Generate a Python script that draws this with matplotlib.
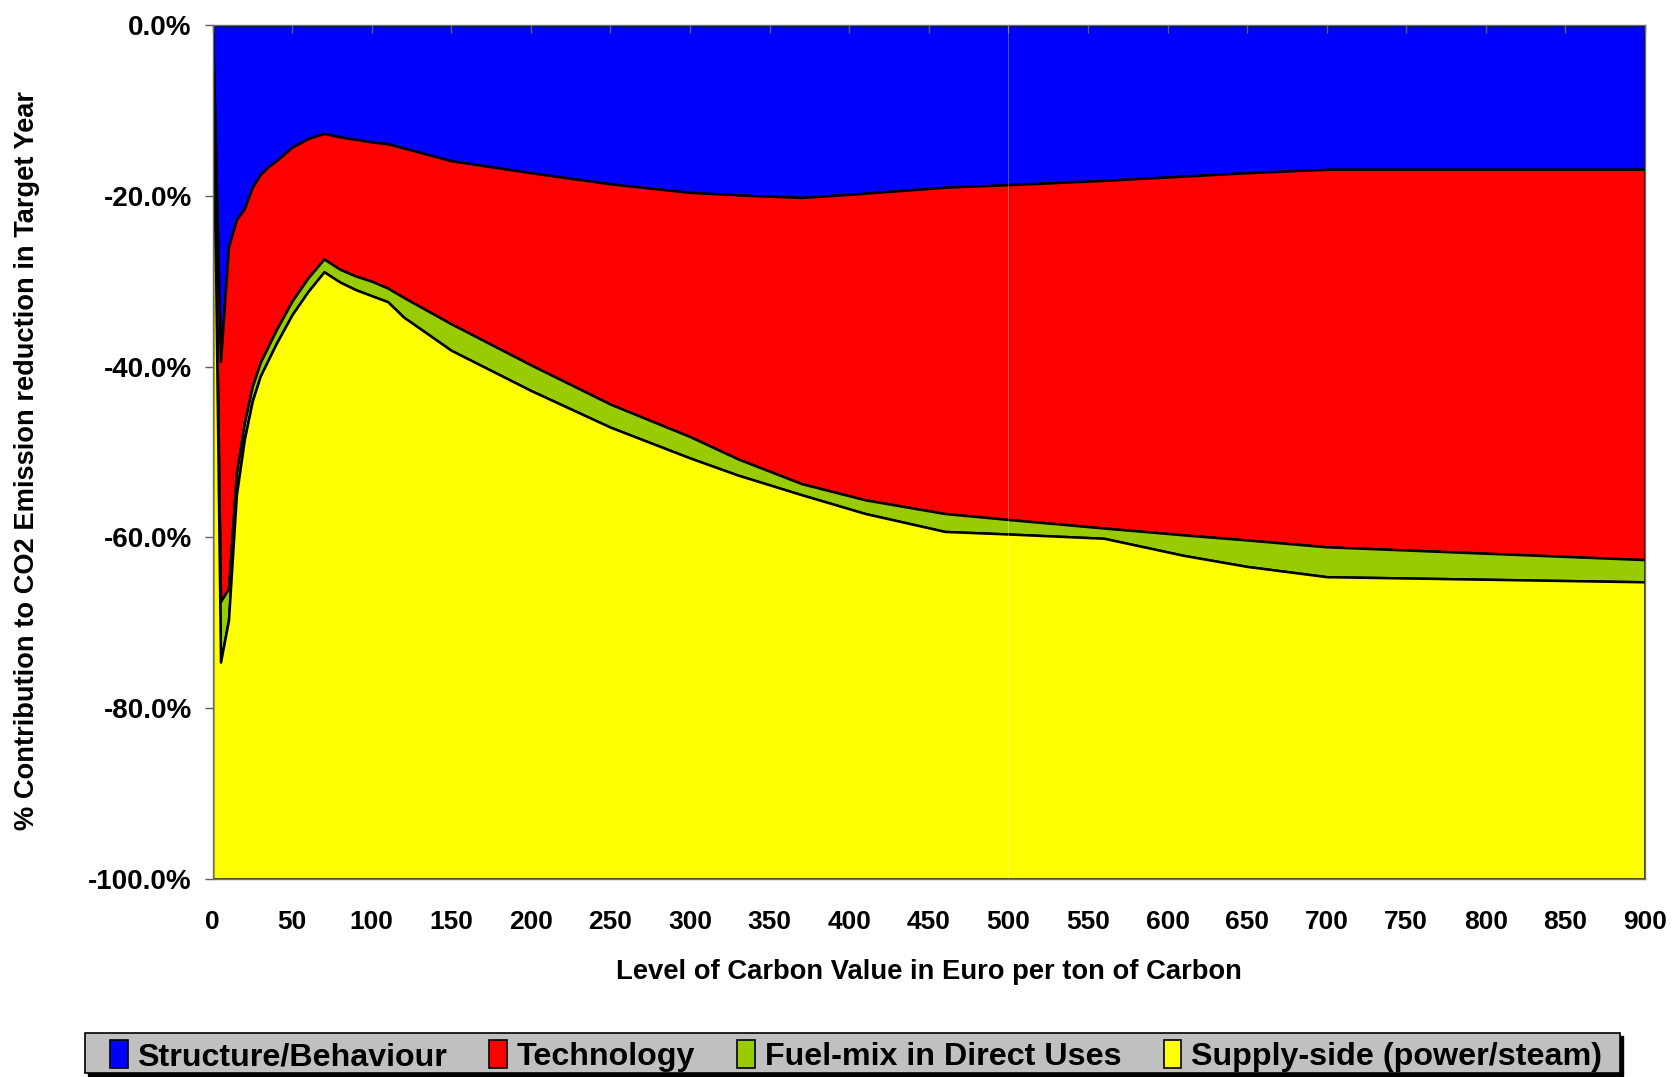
import matplotlib
matplotlib.use('Agg')
import matplotlib.pyplot as plt
from matplotlib.patches import Rectangle
from matplotlib.ticker import FuncFormatter

plt.rcParams['font.family'] = ['Liberation Sans', 'DejaVu Sans']
plt.rcParams['font.weight'] = 'bold'

# carbon value (Euro per ton of Carbon)
carbon = [0, 5, 10, 15, 20, 25, 30, 35, 40, 50, 60, 70, 80, 90, 100, 110, 120, 150,
          200, 250, 300, 330, 370, 410, 460, 500, 560, 610, 650, 700, 800, 900]

# contribution to CO2 emission reduction (%)
structure = [0, -39.4, -26.0, -22.8, -21.5, -19.0, -17.5, -16.6, -15.9, -14.3, -13.3, -12.7,
             -13.1, -13.4, -13.7, -13.9, -14.4, -15.9, -17.3, -18.6, -19.6, -19.9, -20.2,
             -19.7, -19.0, -18.7, -18.2, -17.7, -17.3, -16.9, -16.9, -16.9]
technology = [0, -28.1, -40.0, -29.7, -25.1, -23.3, -22.0, -21.0, -19.8, -18.0, -16.3, -14.7,
              -15.5, -16.0, -16.3, -16.9, -17.5, -19.1, -22.5, -25.8, -28.6, -30.9, -33.5,
              -35.9, -38.2, -39.2, -40.7, -42.0, -43.0, -44.2, -44.95, -45.7]
fuelmix = [0, -7.1, -3.7, -2.5, -1.9, -1.7, -1.6, -1.6, -1.6, -1.6, -1.6, -1.5,
           -1.5, -1.6, -1.7, -1.6, -2.3, -3.1, -3.0, -2.7, -2.5, -1.9, -1.3,
           -1.6, -2.1, -1.7, -1.2, -2.4, -3.1, -3.5, -3.05, -2.6]
supply = [-100, -25.4, -30.3, -45.0, -51.5, -56.0, -58.9, -60.8, -62.7, -66.1, -68.8, -71.1,
          -69.9, -69.0, -68.3, -67.6, -65.8, -61.9, -57.2, -52.9, -49.3, -47.3, -45.0,
          -42.8, -40.7, -40.4, -39.9, -37.9, -36.6, -35.4, -35.1, -34.8]

labels = ['Structure/Behaviour', 'Technology', 'Fuel-mix in Direct Uses', 'Supply-side (power/steam)']
colors = ['#0000ff', '#ff0000', '#99cc00', '#ffff00']

fig = plt.figure(figsize=(16.75, 10.77), dpi=100)
ax = fig.add_axes([0.1269, 0.1838, 0.8552, 0.793])

polys = ax.stackplot(carbon, structure, technology, fuelmix, supply,
                     colors=colors, labels=labels, edgecolor='black', linewidth=1.8)
ax.axvline(500, color='white', lw=0.6, alpha=0.35)

ax.set_xlim(0, 900)
ax.set_ylim(-100, 0)
ax.set_xticks(range(0, 901, 50))
ax.set_yticks(range(-100, 1, 20))
ax.yaxis.set_major_formatter(FuncFormatter(lambda v, p: '%.1f%%' % v))

ax.tick_params(axis='x', top=True, bottom=False, labelbottom=True, labeltop=False,
               direction='in', length=6, width=1, color='#606060', pad=22, labelsize=19)
ax.tick_params(axis='y', direction='out', length=6, width=1, color='#606060', pad=9,
               labelsize=20)
for s in ax.spines.values():
    s.set_color('#707070')
    s.set_linewidth(1)

ax.set_xlabel('Level of Carbon Value in Euro per ton of Carbon', fontsize=19.7, fontweight='bold')
ax.set_ylabel('% Contribution to CO2 Emission reduction in Target Year', fontsize=19.6,
              fontweight='bold')
ax.xaxis.set_label_coords(0.5, -0.109)
ax.xaxis.label.set_va('center')
ax.yaxis.set_label_coords(-0.1297, 0.49)
ax.yaxis.label.set_va('center')

# legend box with shadow
fig.patches.append(Rectangle((0.0507 + 0.0019, 0.0037 - 0.0028), 0.9164, 0.0372,
                             transform=fig.transFigure, facecolor='black',
                             edgecolor='black', zorder=0))
fig.patches.append(Rectangle((0.0507, 0.0037), 0.9164, 0.0372,
                             transform=fig.transFigure, facecolor='#c0c0c0',
                             edgecolor='black', linewidth=1.2, zorder=1))

leg = fig.legend(handles=polys, labels=labels, loc='center', ncol=4, mode='expand',
                 bbox_to_anchor=(0.0657, 0.0007, 0.8907, 0.0372), fontsize=23.2,
                 frameon=False, handlelength=0.55, handleheight=0.95, handletextpad=0.3,
                 borderpad=0.0, borderaxespad=0)
for h in leg.legend_handles:
    h.set_edgecolor('black')
    h.set_linewidth(1.2)

fig.savefig('out.png', dpi=100)
